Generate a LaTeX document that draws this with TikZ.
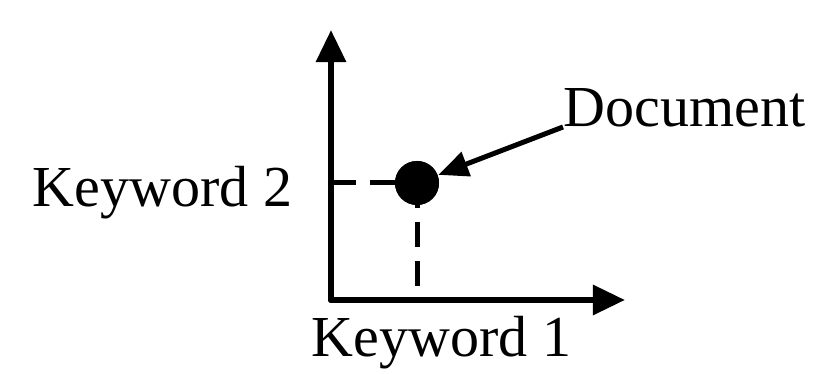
\documentclass[tikz,border=0pt]{standalone}
\usepackage{fontspec}
\setmainfont{Liberation Serif}
\usetikzlibrary{arrows.meta}
\tikzset{%
  axis/.style={line width=0.06cm, line cap=round,
               -{Triangle[length=0.32cm,width=0.29cm]}},
  guide/.style={line width=0.05cm, dash pattern=on 0.25cm off 0.14cm},
  pointer/.style={line width=0.05cm,
               -{Triangle[length=0.30cm,width=0.25cm]}},
  label/.style={inner sep=0pt, font=\fontsize{16.5}{20}\selectfont},
}

\begin{document}
\begin{tikzpicture}[x=0.01cm, y=-0.01cm]

    \useasboundingbox (0,0) rectangle (818,374);

    % Define the points of the axes
    \coordinate (O) at (331,300);
    \coordinate (Ytop) at (331,30);
    \coordinate (Xend) at (625,300);
    \coordinate (Yk) at (331,183);
    \coordinate (Xk) at (417,300);

    %axes
    \draw[axis] (O) -- (Ytop);
    \draw[axis] (O) -- (Xend);

    %the document as a point
    \node[circle, fill, inner sep=0pt, minimum size=0.44cm] (dot) at (417,183) {};

    %dashed guides
    \draw[guide] (Yk) -- (dot.center);
    \draw[guide] (dot.center) -- (Xk);
    \node[circle, fill, inner sep=0pt, minimum size=0.44cm] at (dot) {};

    %labels
    \node[label, anchor=base west] (kw2) at (32,207) {Keyword 2};
    \node[label, anchor=base west] (kw1) at (311,357) {Keyword 1};
    \node[label, anchor=base west] (doc) at (563,127) {Document};

    \draw[pointer] (doc.base west) -- (dot);

\end{tikzpicture}
\end{document}
